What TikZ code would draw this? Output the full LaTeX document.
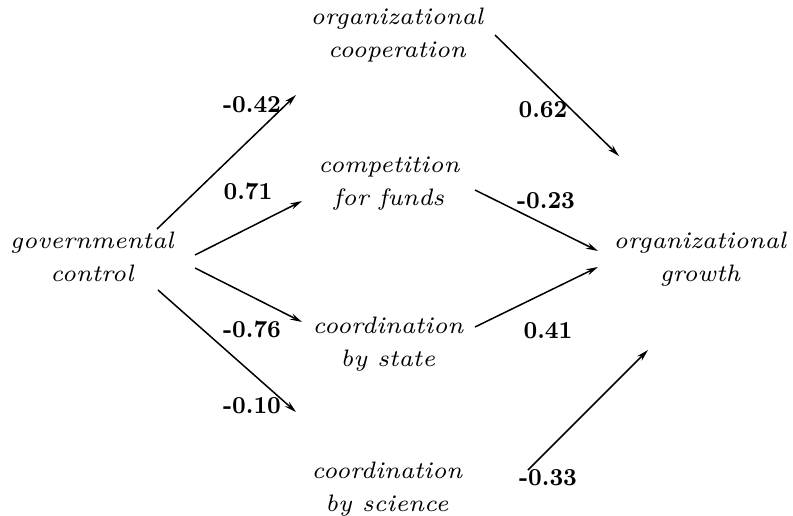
\documentclass[tikz,border=0pt]{standalone}
\usepackage{graphicx}
\usetikzlibrary{arrows.meta}
\newcommand{\vartxt}[2]{\scalebox{1.70}{\fontsize{7}{9.7}\selectfont\itshape\begin{tabular}{@{}c@{}}#1\\#2\end{tabular}}}
\newcommand{\coeftxt}[1]{\scalebox{1.4}[1.52]{\fontsize{8}{10}\selectfont\bfseries #1}}
\begin{document}
\begin{tikzpicture}[x=0.5pt,y=-0.5pt,
  var/.style={inner sep=0pt},
  coef/.style={inner sep=0pt},
  path/.style={line width=0.75pt,-{Stealth[length=6pt,width=3.2pt]}}]
\useasboundingbox (0,0) rectangle (793,515);
% variables
\node[var] (coop) at (397,34) {\vartxt{organizational}{cooperation}};
\node[var] (funds) at (389,182) {\vartxt{competition}{for funds}};
\node[var] (govt) at (92,258) {\vartxt{governmental}{control}};
\node[var] (state) at (388,343) {\vartxt{coordination}{by state}};
\node[var] (sci) at (387,488) {\vartxt{coordination}{by science}};
\node[var] (growth) at (700,258) {\vartxt{organizational}{growth}};
% arrow end points
\coordinate (a1s) at (157,229); \coordinate (a1e) at (296,95);
\coordinate (a2s) at (195,255); \coordinate (a2e) at (302,201);
\coordinate (a3s) at (195,268); \coordinate (a3e) at (302,322);
\coordinate (a4s) at (158,290); \coordinate (a4e) at (296,412);
\coordinate (a5s) at (495,35);  \coordinate (a5e) at (619,156);
\coordinate (a6s) at (475,190); \coordinate (a6e) at (598,251);
\coordinate (a7s) at (475,327); \coordinate (a7e) at (598,267);
\coordinate (a8s) at (528,470); \coordinate (a8e) at (648,350);
\draw[path] (a1s) -- (a1e);
\draw[path] (a2s) -- (a2e);
\draw[path] (a3s) -- (a3e);
\draw[path] (a4s) -- (a4e);
\draw[path] (a5s) -- (a5e);
\draw[path] (a6s) -- (a6e);
\draw[path] (a7s) -- (a7e);
\draw[path] (a8s) -- (a8e);
% coefficients
\node[coef] (c1) at (252,105) {\coeftxt{-0.42}};
\node[coef] (c2) at (248,191) {\coeftxt{0.71}};
\node[coef] (c3) at (252,329) {\coeftxt{-0.76}};
\node[coef] (c4) at (252,406) {\coeftxt{-0.10}};
\node[coef] (c5) at (543,110) {\coeftxt{0.62}};
\node[coef] (c6) at (546,201) {\coeftxt{-0.23}};
\node[coef] (c7) at (548,331) {\coeftxt{0.41}};
\node[coef] (c8) at (548,478) {\coeftxt{-0.33}};
\end{tikzpicture}
\end{document}
